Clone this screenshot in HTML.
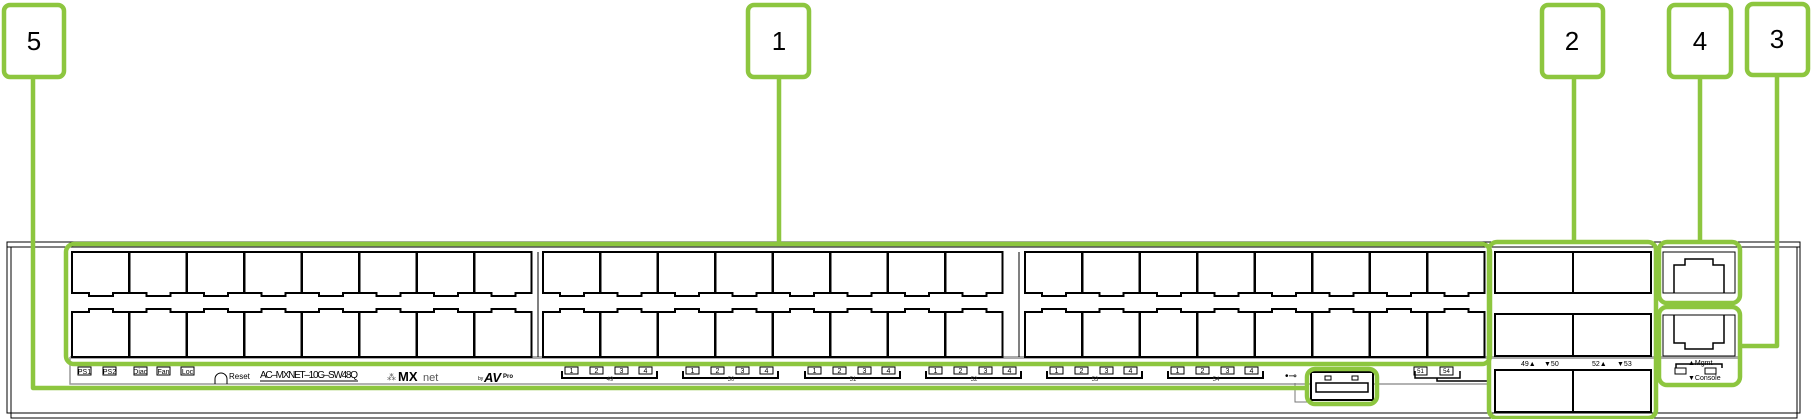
<!DOCTYPE html>
<html><head><meta charset="utf-8"><style>
html,body{margin:0;padding:0;background:#fff;}
svg{display:block;font-family:"Liberation Sans",sans-serif;}
</style></head><body>
<svg width="1811" height="419" viewBox="0 0 1811 419" xmlns="http://www.w3.org/2000/svg">
<defs>
<path id="pt" d="M0,0 H57 V41 H41 V44 H17 V41 H0 Z" fill="#fff" stroke="#000" stroke-width="2"/>
<path id="pb" d="M0,3 H17 V0 H41 V3 H57 V48 H0 Z" fill="#fff" stroke="#000" stroke-width="2"/>
<g id="col"><use href="#pt" y="252"/><use href="#pb" y="309"/></g>
<g id="grp">
<use href="#col" x="0"/><use href="#col" x="57.5"/><use href="#col" x="115"/><use href="#col" x="172.5"/>
<use href="#col" x="230"/><use href="#col" x="287.5"/><use href="#col" x="345"/><use href="#col" x="402.5"/>
</g>
<g id="led" font-size="7" text-anchor="middle">
<rect x="3" y="367" width="13" height="7" fill="#fff" stroke="#000" stroke-width="1"/><text x="9.5" y="373">1</text>
<rect x="28" y="367" width="13" height="7" fill="#fff" stroke="#000" stroke-width="1"/><text x="34.5" y="373">2</text>
<rect x="53" y="367" width="13" height="7" fill="#fff" stroke="#000" stroke-width="1"/><text x="59.5" y="373">3</text>
<rect x="77" y="367" width="13" height="7" fill="#fff" stroke="#000" stroke-width="1"/><text x="83.5" y="373">4</text>
<path d="M0,371 V378 H95 V371" fill="none" stroke="#000" stroke-width="2"/>
</g>
</defs>

<!-- chassis -->
<rect x="7" y="242" width="1793" height="171" fill="none" stroke="#000" stroke-width="1"/>
<path d="M11,247 V418 H1797 V247" fill="none" stroke="#000" stroke-width="1"/>
<line x1="7" y1="247" x2="1800" y2="247" stroke="#000" stroke-width="1"/>
<!-- label strip -->
<path d="M70,357 V384 H1489" fill="none" stroke="#999" stroke-width="1.5"/>
<rect x="70" y="356" width="1419" height="3" fill="#aaa"/>
<rect x="1489" y="356" width="170" height="3" fill="#aaa"/>
<rect x="1659" y="356" width="81" height="3" fill="#aaa"/>

<!-- ports -->
<use href="#grp" x="72"/>
<use href="#grp" x="543"/>
<use href="#grp" x="1025"/>
<line x1="538" y1="252" x2="538" y2="357" stroke="#000" stroke-width="1"/>
<line x1="1019" y1="252" x2="1019" y2="357" stroke="#000" stroke-width="1"/>

<!-- left labels -->
<g font-size="7" text-anchor="middle">
<rect x="78" y="367" width="13" height="8" fill="#fff" stroke="#000" stroke-width="1"/><text x="84.5" y="374">PS1</text>
<rect x="103" y="367" width="13" height="8" fill="#fff" stroke="#000" stroke-width="1"/><text x="109.5" y="374">PS2</text>
<rect x="134" y="367" width="13" height="8" fill="#fff" stroke="#000" stroke-width="1"/><text x="140.5" y="374">Diag</text>
<rect x="157" y="367" width="13" height="8" fill="#fff" stroke="#000" stroke-width="1"/><text x="163.5" y="374">Fan</text>
<rect x="181" y="367" width="13" height="8" fill="#fff" stroke="#000" stroke-width="1"/><text x="187.5" y="374">Loc</text>
</g>
<path d="M215,384 V379 A6,6 0 0 1 227,379 V384" fill="none" stroke="#000" stroke-width="1"/>
<text x="229" y="379" font-size="8">Reset</text>
<text x="260" y="378" font-size="10" textLength="98">AC–MXNET–10G–SW48Q</text>
<line x1="260" y1="381" x2="358" y2="381" stroke="#000" stroke-width="1"/>
<text x="387" y="380" font-size="9" fill="#666">⁂</text>
<text x="398" y="381" font-size="13" font-weight="bold">MX</text>
<text x="423" y="381" font-size="11" fill="#555">net</text>
<text x="478" y="380" font-size="5">by</text>
<text x="484" y="382" font-size="13" font-weight="bold" font-style="italic">AV</text>
<text x="503" y="378" font-size="6" font-weight="bold">Pro</text>

<use href="#led" x="562"/>
<use href="#led" x="683"/>
<use href="#led" x="805"/>
<use href="#led" x="926"/>
<use href="#led" x="1047"/>
<use href="#led" x="1168"/>
<g font-size="6" text-anchor="middle" fill="#333">
<text x="610" y="381">49</text><text x="731" y="381">50</text><text x="853" y="381">51</text>
<text x="974" y="381">52</text><text x="1095" y="381">53</text><text x="1216" y="381">54</text>
</g>
<!-- USB -->
<text x="1285" y="379" font-size="10">•⊸</text>
<path d="M1295,383 V402 H1307" fill="none" stroke="#777" stroke-width="1"/>
<rect x="1311" y="372" width="62" height="28" fill="#fff" stroke="#000" stroke-width="2"/>
<rect x="1316" y="383" width="52" height="9" fill="#fff" stroke="#000" stroke-width="1.5"/>
<rect x="1325" y="376" width="6" height="4" fill="none" stroke="#000" stroke-width="1"/>
<rect x="1352" y="376" width="6" height="4" fill="none" stroke="#000" stroke-width="1"/>
<g font-size="6" text-anchor="middle">
<rect x="1414" y="367" width="13" height="8" fill="#fff" stroke="#000" stroke-width="1"/><text x="1420.5" y="373">51</text>
<rect x="1440" y="367" width="13" height="8" fill="#fff" stroke="#000" stroke-width="1"/><text x="1446.5" y="373">54</text>
</g>
<path d="M1415,371 V378 H1460 V371 M1437,378 V381 H1489" fill="none" stroke="#000" stroke-width="1.5"/>

<!-- SFP cages -->
<g fill="#fff" stroke="#000" stroke-width="2">
<rect x="1495" y="252" width="78" height="41"/><rect x="1573" y="252" width="78" height="41"/>
<rect x="1495" y="314" width="78" height="42"/><rect x="1573" y="314" width="78" height="42"/>
<rect x="1495" y="370" width="78" height="42"/><rect x="1573" y="370" width="78" height="42"/>
</g>
<g font-size="7">
<text x="1521" y="366">49▲</text><text x="1544" y="366">▼50</text>
<text x="1592" y="366">52▲</text><text x="1617" y="366">▼53</text>
</g>
<!-- mgmt/console -->
<rect x="1663" y="252" width="72" height="41" fill="#fff" stroke="#000" stroke-width="1"/>
<path d="M1674,293 V265 H1685 V259 H1713 V265 H1724 V293" fill="none" stroke="#000" stroke-width="1.5"/>
<rect x="1663" y="315" width="72" height="41" fill="#fff" stroke="#000" stroke-width="1"/>
<path d="M1674,315 V343 H1685 V349 H1713 V343 H1724 V315" fill="none" stroke="#000" stroke-width="1.5"/>
<text x="1688" y="365" font-size="7">▲Mgmt</text>
<text x="1688" y="380" font-size="7">▼Console</text>
<rect x="1675" y="368" width="11" height="6" fill="#fff" stroke="#000" stroke-width="1"/>
<rect x="1705" y="368" width="11" height="6" fill="#fff" stroke="#000" stroke-width="1"/>
<path d="M1676,368 V364 H1722 V368" fill="none" stroke="#000" stroke-width="1.5"/>

<!-- green highlights -->
<g fill="none" stroke="#8dc63f" stroke-width="4.5" stroke-linejoin="round">
<rect x="66" y="244" width="1424" height="120" rx="8"/>
<rect x="1489" y="242" width="167" height="176" rx="8"/>
<rect x="1659" y="242" width="81" height="61" rx="8"/>
<rect x="1659" y="307" width="81" height="78" rx="8"/>
<rect x="1307" y="369" width="70" height="35" rx="8"/>
<path d="M33,77 V388 H1307"/>
<path d="M779,77 V244"/>
<path d="M1574,77 V242"/>
<path d="M1700,77 V242"/>
<path d="M1777,77 V346 H1740"/>
<rect x="4" y="5" width="60" height="72" rx="6" fill="#fff"/>
<rect x="748" y="5" width="61" height="72" rx="6" fill="#fff"/>
<rect x="1542" y="5" width="61" height="72" rx="6" fill="#fff"/>
<rect x="1669" y="5" width="62" height="72" rx="6" fill="#fff"/>
<rect x="1747" y="4" width="61" height="71" rx="6" fill="#fff"/>
</g>
<g font-size="26" text-anchor="middle">
<text x="34" y="50">5</text>
<text x="779" y="50">1</text>
<text x="1572" y="50">2</text>
<text x="1700" y="50">4</text>
<text x="1777" y="48">3</text>
</g>
</svg>
</body></html>
